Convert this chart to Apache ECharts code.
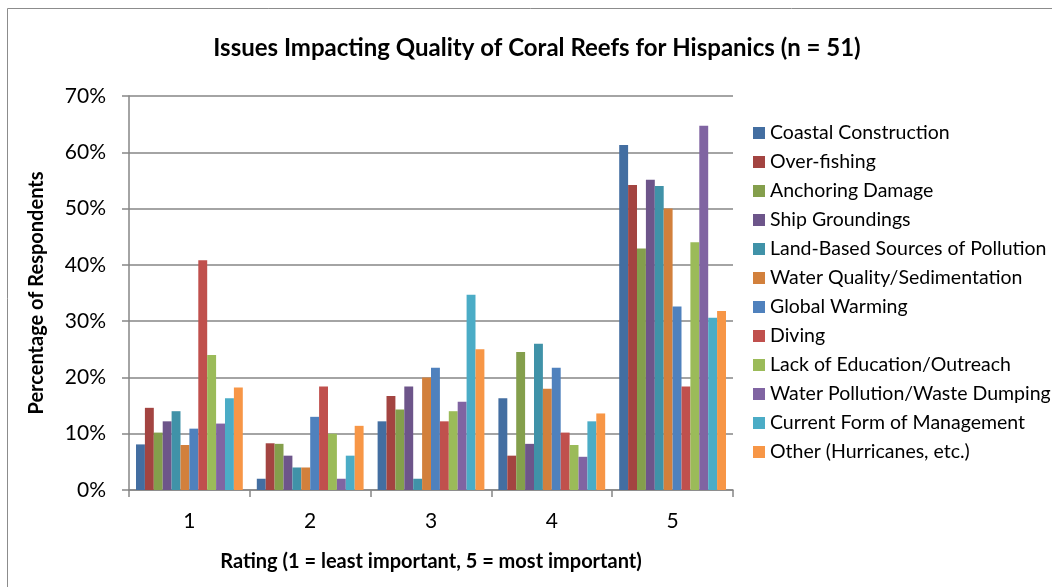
<!DOCTYPE html>
<html>
<head>
<meta charset="utf-8">
<script src="https://cdn.jsdelivr.net/npm/echarts@6/dist/echarts.min.js"></script>
<style>
html,body{margin:0;padding:0;background:#fff;}
#chart{width:1052px;height:587px;}
</style>
</head>
<body>
<div id="chart"></div>
<script>
const categories = ['1', '2', '3', '4', '5'];
const yTicks = [0, 10, 20, 30, 40, 50, 60, 70];

const coastalConstruction = [8.1, 2.0, 12.2, 16.3, 61.3];
const overFishing = [14.6, 8.3, 16.7, 6.1, 54.2];
const anchoringDamage = [10.2, 8.2, 14.3, 24.5, 42.9];
const shipGroundings = [12.2, 6.1, 18.4, 8.2, 55.1];
const landBasedSources = [14.0, 4.0, 2.0, 26.0, 54.0];
const waterQuality = [8.0, 4.0, 20.0, 18.0, 50.0];
const globalWarming = [10.9, 13.0, 21.7, 21.7, 32.6];
const diving = [40.8, 18.4, 12.2, 10.2, 18.4];
const lackOfEducation = [24.0, 10.0, 14.0, 8.0, 44.0];
const waterPollution = [11.8, 2.0, 15.7, 5.9, 64.7];
const currentManagement = [16.3, 6.1, 34.7, 12.2, 30.6];
const otherHurricanes = [18.2, 11.4, 25.0, 13.6, 31.8];

const seriesNames = [
  'Coastal Construction', 'Over-fishing', 'Anchoring Damage', 'Ship Groundings',
  'Land-Based Sources of Pollution', 'Water Quality/Sedimentation', 'Global Warming',
  'Diving', 'Lack of Education/Outreach', 'Water Pollution/Waste Dumping',
  'Current Form of Management', 'Other (Hurricanes, etc.)'
];
const seriesData = [
  coastalConstruction, overFishing, anchoringDamage, shipGroundings,
  landBasedSources, waterQuality, globalWarming, diving, lackOfEducation,
  waterPollution, currentManagement, otherHurricanes
];
const colors = [
  '#436EA1', '#A34441', '#849F4C', '#6D558A', '#4092A8', '#D2803C',
  '#4F81BD', '#C0504D', '#9BBB59', '#8064A2', '#4BACC6', '#F79646'
];

const FONT = 'Lato, "Open Sans", "Liberation Sans", sans-serif';
const chart = echarts.init(document.getElementById('chart'), null, {renderer: 'canvas'});
chart.setOption({
  animation: false,
  color: colors,
  textStyle: {fontFamily: FONT, color: '#000'},
  graphic: [{
    type: 'rect',
    shape: {x: 7.5, y: 8.5, width: 1100, height: 700},
    style: {fill: 'none', stroke: '#8c8c8c', lineWidth: 1},
    silent: true
  }],
  title: {
    text: 'Issues Impacting Quality of Coral Reefs for Hispanics (n = 51)',
    left: 532, top: 31, textAlign: 'center',
    textStyle: {fontFamily: FONT, fontSize: 24, fontWeight: 'bold', color: '#000'}
  },
  legend: {
    orient: 'vertical',
    left: 753, top: 123, padding: 0,
    itemWidth: 12, itemHeight: 12, itemGap: 9,
    icon: 'rect',
    textStyle: {fontFamily: FONT, fontSize: 19.5, color: '#000', lineHeight: 20},
    data: seriesNames
  },
  grid: {left: 129, right: 319, top: 96, bottom: 97, containLabel: false},
  xAxis: {
    type: 'category',
    data: categories,
    name: 'Rating (1 = least important, 5 = most important)',
    nameLocation: 'middle', nameGap: 62,
    nameTextStyle: {fontFamily: FONT, fontSize: 20, fontWeight: 'bold', color: '#000'},
    axisLine: {lineStyle: {color: '#868686', width: 1.5}},
    axisTick: {show: true, length: 7, lineStyle: {color: '#868686', width: 1.5}},
    axisLabel: {fontFamily: FONT, fontSize: 21, color: '#000', margin: 21}
  },
  yAxis: {
    type: 'value',
    min: 0, max: 70, interval: 10,
    name: 'Percentage of Respondents',
    nameLocation: 'middle', nameGap: 82,
    nameTextStyle: {fontFamily: FONT, fontSize: 20, fontWeight: 'bold', color: '#000'},
    axisLine: {show: true, lineStyle: {color: '#868686', width: 1.5}},
    axisTick: {show: true, length: 7, lineStyle: {color: '#868686', width: 1.5}},
    splitLine: {lineStyle: {color: '#868686', width: 1.5}},
    axisLabel: {
      fontFamily: FONT, fontSize: 21, color: '#000', margin: 23,
      formatter: function (v) { return yTicks.indexOf(v) >= 0 ? v + '%' : ''; }
    }
  },
  series: seriesData.map(function (d, i) {
    return {
      name: seriesNames[i],
      type: 'bar',
      data: d,
      barGap: '0%',
      barCategoryGap: '11.6%',
      itemStyle: {color: colors[i]}
    };
  })
});
</script>
</body>
</html>
